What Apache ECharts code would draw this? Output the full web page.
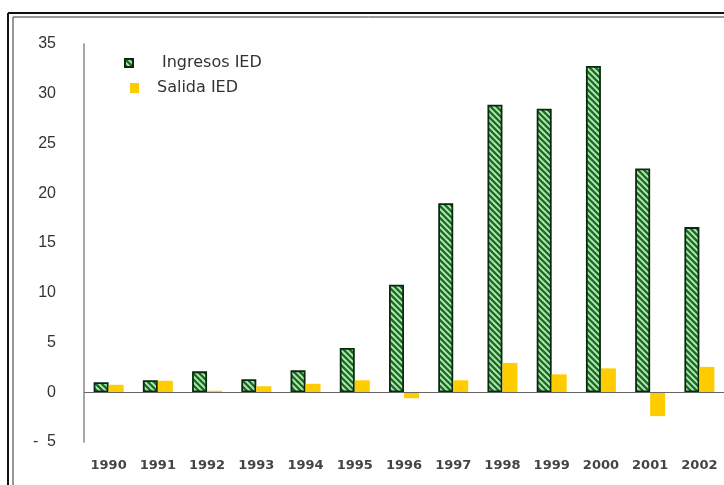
<!DOCTYPE html>
<html>
<head>
<meta charset="utf-8">
<script src="https://cdn.jsdelivr.net/npm/echarts@6/dist/echarts.min.js"></script>
<style>
  html, body { margin: 0; padding: 0; background: #fff; }
  #chart { width: 724px; height: 485px; }
</style>
</head>
<body>
<div id="chart"></div>
<script>
const years = ['1990', '1991', '1992', '1993', '1994', '1995', '1996', '1997', '1998', '1999', '2000', '2001', '2002'];
const ingresosIED = [1.0, 1.2, 2.1, 1.3, 2.2, 4.45, 10.8, 19.0, 28.9, 28.5, 32.8, 22.5, 16.6];
const salidaIED = [0.75, 1.15, 0.15, 0.6, 0.85, 1.2, -0.6, 1.2, 2.95, 1.8, 2.4, -2.4, 2.55];

// diagonal stripe fill for the inflow bars
function stripePattern() {
  const size = 6;
  const cv = document.createElement('canvas');
  cv.width = size;
  cv.height = size;
  const ctx = cv.getContext('2d');
  ctx.fillStyle = '#bdeab3';
  ctx.fillRect(0, 0, size, size);
  ctx.strokeStyle = '#17702a';
  ctx.lineWidth = 2.4;
  ctx.beginPath();
  ctx.moveTo(-1, -1); ctx.lineTo(size + 1, size + 1);
  ctx.moveTo(-1, size - 1); ctx.lineTo(1, size + 1);
  ctx.moveTo(size - 1, -1); ctx.lineTo(size + 1, 1);
  ctx.stroke();
  return cv;
}

const chart = echarts.init(document.getElementById('chart'));

chart.setOption({
  animation: false,
  backgroundColor: '#fff',
  grid: { left: 84, right: 0, top: 44, bottom: 43 },
  legend: [
    {
      data: ['Ingresos IED'],
      left: 119, top: 50,
      itemWidth: 8, itemHeight: 8,
      icon: 'rect',
      textStyle: { fontFamily: 'DejaVu Sans', fontSize: 16, color: '#333', padding: [0, 0, 0, 24] }
    },
    {
      data: ['Salida IED'],
      left: 125, top: 75,
      itemWidth: 9, itemHeight: 10,
      icon: 'rect',
      textStyle: { fontFamily: 'DejaVu Sans', fontSize: 16, color: '#333', padding: [0, 0, 0, 13] }
    }
  ],
  xAxis: {
    type: 'category',
    data: years,
    axisLine: { show: false },
    axisTick: { show: false },
    axisLabel: { interval: 0, margin: 17, fontFamily: 'DejaVu Sans', fontWeight: 'bold', fontSize: 13, color: '#444' }
  },
  yAxis: {
    type: 'value',
    min: -5, max: 35, interval: 5,
    splitLine: { show: false },
    axisTick: { show: false },
    axisLine: { show: true, lineStyle: { color: '#888', width: 1.5 } },
    axisLabel: {
      margin: 28, fontFamily: 'Arial', fontSize: 16, color: '#333',
      formatter: v => (v < 0 ? '-  ' + Math.abs(v) : String(v))
    }
  },
  graphic: [
    { type: 'line', shape: { x1: 8, y1: 13, x2: 724, y2: 13 }, style: { stroke: '#111', lineWidth: 2 } },
    { type: 'line', shape: { x1: 13, y1: 17, x2: 724, y2: 17 }, style: { stroke: '#333', lineWidth: 1 } },
    { type: 'line', shape: { x1: 8, y1: 13, x2: 8, y2: 485 }, style: { stroke: '#111', lineWidth: 2 } },
    { type: 'line', shape: { x1: 13, y1: 17, x2: 13, y2: 485 }, style: { stroke: '#333', lineWidth: 1 } }
  ],
  series: [
    {
      name: 'Ingresos IED',
      type: 'bar',
      data: ingresosIED,
      barWidth: 15,
      barGap: '0%',
      itemStyle: {
        color: { image: stripePattern(), repeat: 'repeat' },
        borderColor: '#0a2a10',
        borderWidth: 1.8
      },
      markLine: {
        silent: true,
        symbol: 'none',
        label: { show: false },
        lineStyle: { color: '#666', width: 1, type: 'solid' },
        data: [{ yAxis: 0 }]
      }
    },
    {
      name: 'Salida IED',
      type: 'bar',
      data: salidaIED,
      barWidth: 15,
      itemStyle: { color: '#ffcc00' }
    }
  ]
});
</script>
</body>
</html>
